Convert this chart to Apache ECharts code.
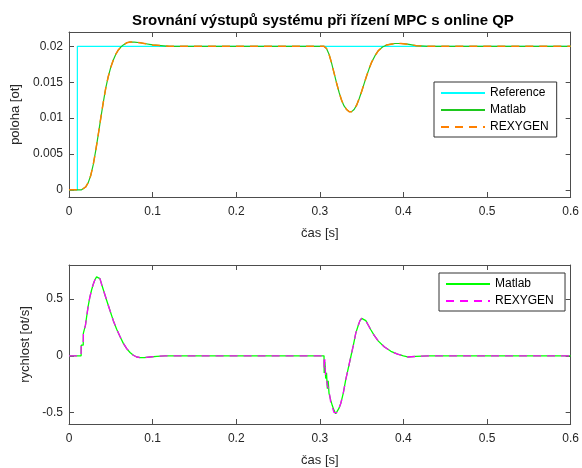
<!DOCTYPE html>
<html>
<head>
<meta charset="utf-8">
<script src="https://cdn.jsdelivr.net/npm/echarts@6/dist/echarts.min.js"></script>
<style>
  html, body { margin: 0; padding: 0; background: #fff; }
  #chart { width: 582px; height: 468px; }
</style>
</head>
<body>
<div id="chart"></div>
<script>
  // reference signal (step)
  var refTime = [0, 0.01, 0.01, 0.6];
  var refPos = [0, 0, 0.02, 0.02];

  // position response
  var posTime = [0, 0.015, 0.017, 0.02, 0.023, 0.026, 0.029, 0.032, 0.035, 0.038, 0.041, 0.044, 0.047, 0.05,
    0.053, 0.056, 0.059, 0.062, 0.065, 0.069, 0.073, 0.078, 0.085, 0.09, 0.1, 0.11, 0.12, 0.15, 0.2, 0.3,
    0.305, 0.308, 0.311, 0.314, 0.317, 0.32, 0.323, 0.326, 0.329, 0.332, 0.335, 0.338, 0.341, 0.344, 0.347,
    0.35, 0.353, 0.356, 0.359, 0.362, 0.366, 0.37, 0.375, 0.38, 0.385, 0.39, 0.397, 0.405, 0.415, 0.43, 0.6];
  var posMatlab = [0, 0, 0.00005, 0.0004, 0.001, 0.002, 0.0035, 0.0055, 0.0077, 0.01, 0.0122, 0.0142, 0.0158, 0.0171,
    0.0181, 0.0189, 0.0195, 0.0199, 0.0202, 0.0205, 0.0206, 0.0206, 0.0205, 0.0204, 0.0202, 0.0201, 0.02, 0.02, 0.02, 0.02,
    0.02, 0.0197, 0.0189, 0.0177, 0.0163, 0.0149, 0.0136, 0.0125, 0.0117, 0.0112, 0.0109, 0.0109, 0.0112, 0.0118, 0.0127,
    0.0137, 0.0148, 0.0159, 0.0169, 0.0178, 0.0187, 0.0194, 0.0199, 0.0202, 0.0203, 0.0204, 0.0204, 0.0203, 0.0201, 0.02, 0.02];
  var posRexygen = posMatlab.slice();

  // velocity response
  var velTime = [0, 0.0145, 0.0146, 0.017, 0.0172, 0.0195, 0.0197, 0.021, 0.023, 0.025, 0.027, 0.029, 0.031, 0.033,
    0.035, 0.037, 0.039, 0.042, 0.045, 0.049, 0.053, 0.057, 0.061, 0.065, 0.069, 0.073, 0.077, 0.081, 0.085, 0.09,
    0.097, 0.105, 0.115, 0.3, 0.305, 0.3052, 0.306, 0.3065, 0.307, 0.308, 0.309, 0.31, 0.311, 0.313, 0.315, 0.317,
    0.319, 0.321, 0.323, 0.325, 0.328, 0.331, 0.334, 0.337, 0.34, 0.343, 0.346, 0.348, 0.35, 0.352, 0.355, 0.358,
    0.361, 0.365, 0.37, 0.377, 0.385, 0.393, 0.4, 0.405, 0.415, 0.43, 0.6];
  var velMatlab = [0, 0, 0.094, 0.094, 0.2, 0.21, 0.27, 0.34, 0.44, 0.52, 0.58, 0.63, 0.67, 0.695,
    0.7, 0.68, 0.63, 0.56, 0.49, 0.4, 0.31, 0.235, 0.17, 0.11, 0.064, 0.03, 0.005, -0.01, -0.015, -0.015,
    -0.01, -0.004, 0, 0, 0, -0.15, -0.05, -0.1, -0.2, -0.15, -0.29, -0.22, -0.33, -0.39, -0.44, -0.48,
    -0.51, -0.5, -0.46, -0.42, -0.33, -0.21, -0.11, -0.01, 0.09, 0.2, 0.27, 0.31, 0.33, 0.335, 0.31, 0.27,
    0.23, 0.18, 0.13, 0.08, 0.04, 0.015, 0, -0.01, -0.005, 0, 0];
  var velRexygen = [0, 0, 0.094, 0.094, 0.2, 0.21, 0.27, 0.34, 0.44, 0.52, 0.58, 0.63, 0.67, 0.695,
    0.7, 0.68, 0.63, 0.56, 0.49, 0.4, 0.31, 0.235, 0.17, 0.11, 0.064, 0.03, 0.005, -0.01, -0.015, -0.015,
    -0.01, -0.004, 0, 0, 0, -0.12, -0.03, -0.13, -0.17, -0.2, -0.26, -0.27, -0.3, -0.41, -0.42, -0.5,
    -0.5, -0.5, -0.46, -0.42, -0.33, -0.21, -0.11, -0.01, 0.09, 0.2, 0.27, 0.31, 0.33, 0.335, 0.31, 0.27,
    0.23, 0.18, 0.13, 0.08, 0.04, 0.015, 0, -0.01, -0.005, 0, 0];

  var posTicks = [0, 0.005, 0.01, 0.015, 0.02];
  var velTicks = [-0.5, 0, 0.5];

  function pairs(xs, ys) {
    return xs.map(function (x, i) { return [x, ys[i]]; });
  }

  var font = 'Liberation Sans, Arial, Helvetica, sans-serif';
  var axisColor = '#4d4d4d';
  var textColor = '#262626';

  function xAx(grid, pos, showLabel) {
    return {
      type: 'value', gridIndex: grid, position: pos, min: 0, max: 0.6, interval: 0.1,
      name: showLabel ? 'čas [s]' : '', nameLocation: 'middle', nameGap: 30,
      nameTextStyle: { fontFamily: font, fontSize: 13, color: textColor },
      axisLine: { show: true, onZero: false, lineStyle: { color: axisColor, width: 1 } },
      axisTick: { show: true, inside: true, length: 5, lineStyle: { color: axisColor } },
      axisLabel: { show: showLabel, fontFamily: font, fontSize: 12, color: textColor, margin: 9 },
      splitLine: { show: false }
    };
  }

  function yAx(grid, pos, min, max, ticks, name, gap) {
    return {
      type: 'value', gridIndex: grid, position: pos, min: min, max: max,
      name: name, nameLocation: 'middle', nameGap: gap, nameRotate: 90,
      nameTextStyle: { fontFamily: font, fontSize: 13, color: textColor },
      axisLine: { show: true, onZero: false, lineStyle: { color: axisColor, width: 1 } },
      axisTick: { show: true, inside: true, length: 5, customValues: ticks, lineStyle: { color: axisColor } },
      axisLabel: { show: name !== '', customValues: ticks, fontFamily: font, fontSize: 12, color: textColor, margin: 6 },
      splitLine: { show: false }
    };
  }

  function line(name, data, xi, yi, color, width, dashed) {
    return {
      name: name, type: 'line', data: data, xAxisIndex: xi, yAxisIndex: yi,
      symbol: 'none', animation: false, silent: true,
      lineStyle: { color: color, width: width, type: dashed ? [8, 6] : 'solid' },
      itemStyle: { color: color }
    };
  }

  var legendBase = {
    orient: 'vertical', backgroundColor: '#fff', borderColor: '#333', borderWidth: 1,
    itemWidth: 44, itemHeight: 12, itemGap: 5, padding: [5, 8, 4, 6],
    itemStyle: { opacity: 0 },
    textStyle: { fontFamily: font, fontSize: 12, color: '#000' }, selectedMode: false
  };

  var chart = echarts.init(document.getElementById('chart'));
  chart.setOption({
    backgroundColor: '#fff',
    animation: false,
    title: {
      text: 'Srovnání výstupů systému při řízení MPC s online QP',
      left: 318, top: 8, textAlign: 'center',
      textStyle: { fontFamily: font, fontSize: 15, fontWeight: 'bold', color: '#000' }
    },
    grid: [
      { left: 69, top: 32, width: 504, height: 165 },
      { left: 69, top: 265, width: 504, height: 162 }
    ],
    xAxis: [xAx(0, 'bottom', true), xAx(0, 'top', false), xAx(1, 'bottom', true), xAx(1, 'top', false)],
    yAxis: [
      yAx(0, 'left', -0.001, 0.022, posTicks, 'poloha [ot]', 37),
      yAx(0, 'right', -0.001, 0.022, posTicks, '', 0),
      yAx(1, 'left', -0.6, 0.8, velTicks, 'rychlost [ot/s]', 28),
      yAx(1, 'right', -0.6, 0.8, velTicks, '', 0)
    ],
    legend: [
      Object.assign({ left: 434, top: 82, data: ['Reference', 'Matlab', 'REXYGEN'] }, legendBase),
      Object.assign({ left: 439, top: 273, data: ['Matlab ', 'REXYGEN '] }, legendBase)
    ],
    series: [
      line('Reference', pairs(refTime, refPos), 0, 0, '#00ffff', 1.2, false),
      line('Matlab', pairs(posTime, posMatlab), 0, 0, '#1ec81e', 1.2, false),
      line('REXYGEN', pairs(posTime, posRexygen), 0, 0, '#ff8000', 1.5, true),
      line('Matlab ', pairs(velTime, velMatlab), 2, 2, '#00ff00', 1.3, false),
      line('REXYGEN ', pairs(velTime, velRexygen), 2, 2, '#ff00ff', 1.3, true)
    ]
  });
</script>
</body>
</html>
